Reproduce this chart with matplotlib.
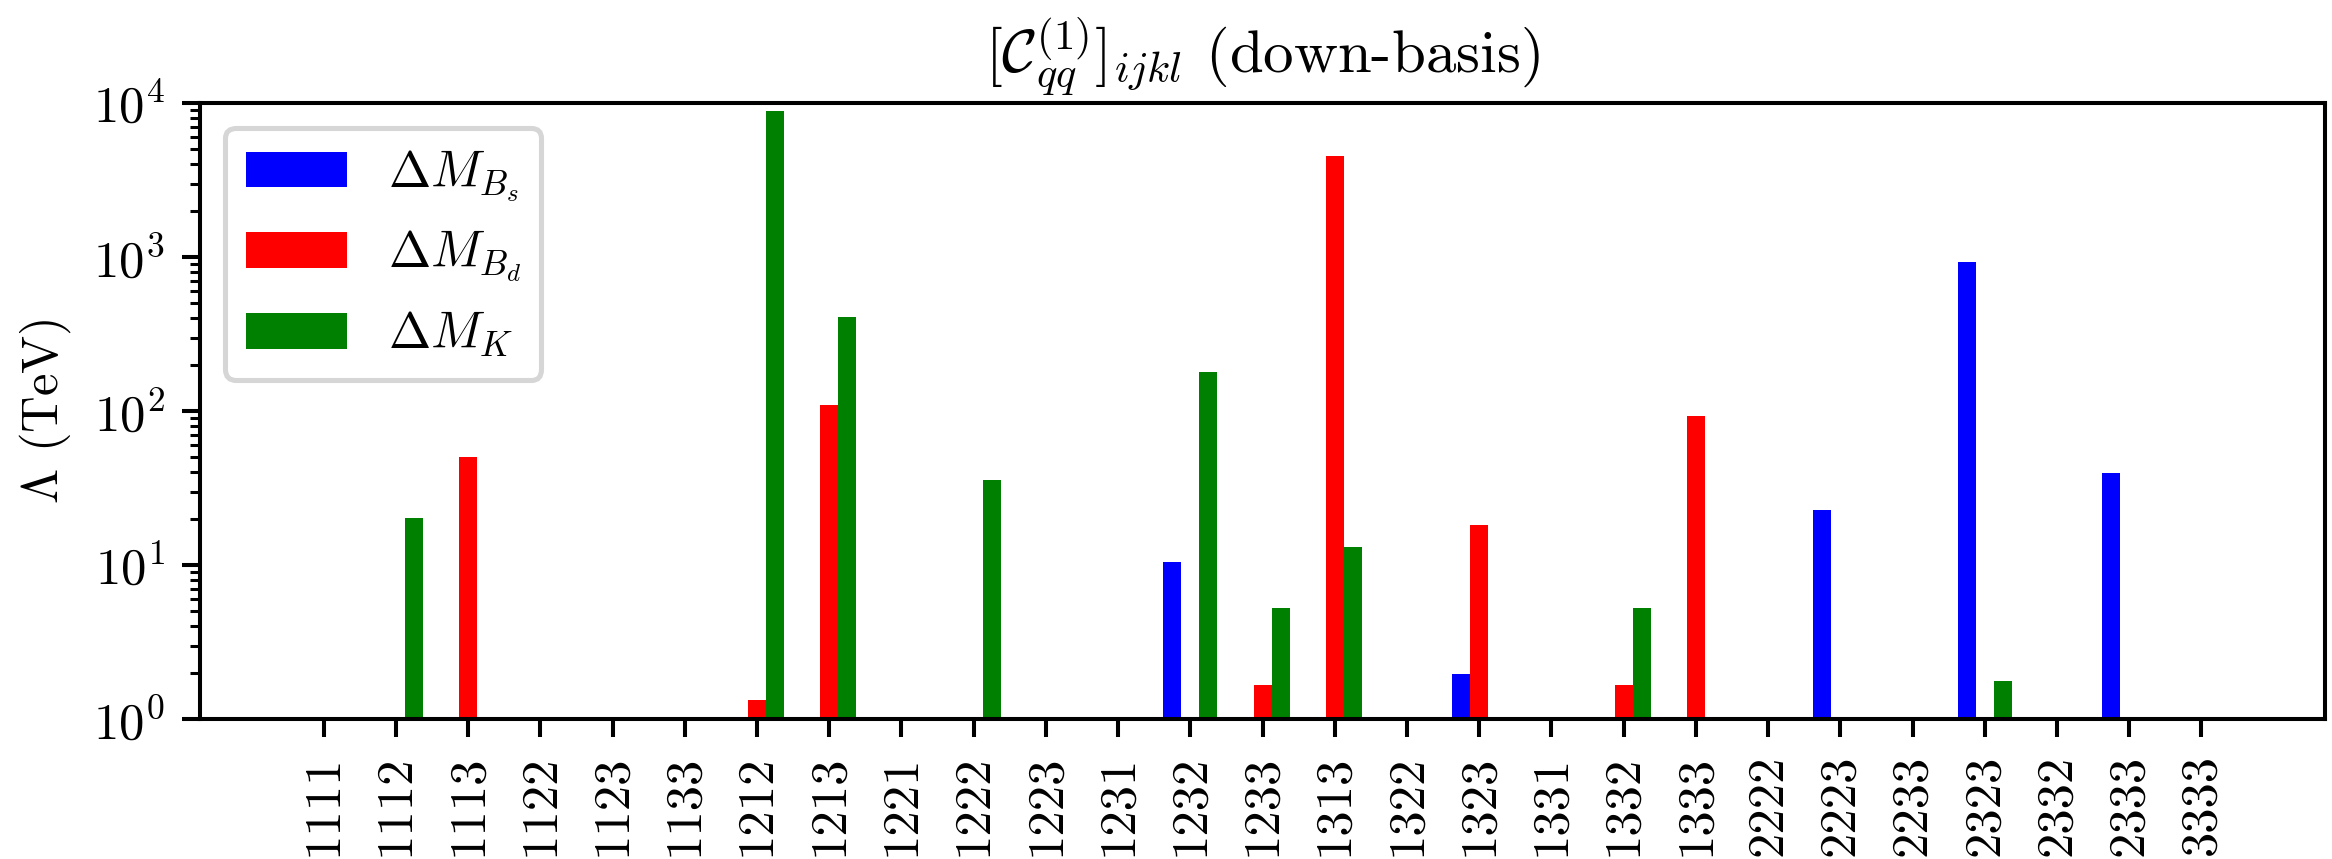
import numpy as np
import matplotlib
matplotlib.use("Agg")
import matplotlib.pyplot as plt

plt.rcParams['font.family'] = ['cmr10']
plt.rcParams['mathtext.fontset'] = 'cm'
plt.rcParams['axes.formatter.use_mathtext'] = True
plt.rcParams['font.size'] = 10

labels = ["1111", "1112", "1113", "1122", "1123", "1133", "1212", "1213", "1221",
          "1222", "1223", "1231", "1232", "1233", "1313", "1322", "1323", "1331",
          "1332", "1333", "2222", "2223", "2233", "2323", "2332", "2333", "3333"]
nan = np.nan
dMBs = [nan, nan, nan, nan, nan, nan, nan, nan, nan, nan, nan, nan, 10.4, nan,
        nan, nan, 1.97, nan, nan, nan, nan, 22.7, nan, 931, nan, 39.6, nan]
dMBd = [nan, nan, 50.6, nan, nan, nan, 1.32, 110, nan, nan, nan, nan, nan, 1.65,
        4515, nan, 18.2, nan, 1.65, 92.2, nan, nan, nan, nan, nan, nan, nan]
dMK = [nan, 20.3, nan, nan, nan, nan, 8810, 409, nan, 35.4, nan, nan, 180, 5.23,
       13.0, nan, nan, nan, 5.23, nan, nan, nan, nan, 1.76, nan, nan, nan]

DPI = 365
fig = plt.figure(figsize=(2332 / DPI, 859 / DPI), dpi=DPI)
ax = fig.add_axes([0.0858, 0.1630, 0.9970 - 0.0858, 0.8801 - 0.1630])
x = np.arange(len(labels))
w = 0.25
ax.bar(x - w, dMBs, w, color='blue', label=r'$\Delta M_{B_s}$')
ax.bar(x, dMBd, w, color='red', label=r'$\Delta M_{B_d}$')
ax.bar(x + w, dMK, w, color='green', label=r'$\Delta M_K$')
ax.set_yscale('log')
ax.set_ylim(1, 1e4)
ax.set_xlim(-1.71, 27.71)
ax.set_xticks(x)
ax.set_xticklabels(labels, rotation=90)
ax.set_ylabel(r'$\Lambda$ (TeV)')
ax.set_title(r'$[\mathcal{C}_{qq}^{(1)}]_{ijkl}$ (down-basis)')
ax.legend(loc='upper left')
fig.savefig('out.png', dpi=DPI)
